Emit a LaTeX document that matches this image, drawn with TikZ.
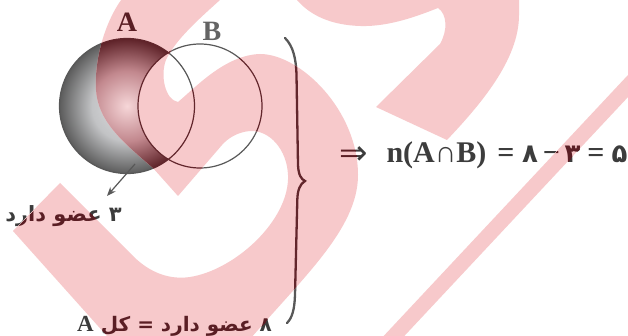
\documentclass[tikz,border=0pt]{standalone}
\usepackage{fontspec}
\setmainfont{Liberation Serif}
\newfontfamily\fa[Script=Arabic]{DejaVu Sans}
\TeXXeTstate=1
\usetikzlibrary{arrows.meta}
\definecolor{wm}{RGB}{247,201,203}
\definecolor{lnG}{RGB}{88,88,88}
\definecolor{lnP}{RGB}{98,38,44}
\definecolor{txG}{RGB}{60,60,60}
\definecolor{txP}{RGB}{90,30,36}
\definecolor{lbG}{RGB}{100,100,100}
\definecolor{g0}{RGB}{224,225,227}
\definecolor{g1}{RGB}{194,195,197}
\definecolor{g2}{RGB}{92,92,92}
\definecolor{p0}{RGB}{246,214,216}
\definecolor{p1}{RGB}{194,136,142}
\definecolor{p2}{RGB}{94,34,40}
\pgfdeclareradialshading{shG}{\pgfpointorigin}{color(0bp)=(g0); color(13bp)=(g1); color(25bp)=(g2); color(50bp)=(g2)}
\pgfdeclareradialshading{shP}{\pgfpointorigin}{color(0bp)=(p0); color(13bp)=(p1); color(25bp)=(p2); color(50bp)=(p2)}
\newcommand{\drawall}[5]{%
  \begin{scope}[even odd rule]
    \clip (127,106) circle[radius=67.5pt] (200,106) circle[radius=62pt];
    \shade[shading=#4] (127,106) circle[radius=67.5pt];
  \end{scope}
  \node[circle, minimum size=135pt, inner sep=0pt, draw=#2, line width=1.2pt] (A#1) at (127,106) {};
  \node[circle, minimum size=124pt, inner sep=0pt, draw=#2, line width=1.2pt] (B#1) at (200,106) {};
  \node[lab, text=#3] (la#1) at (127,22) {A};
  \node[lab, text=#5] (lb#1) at (212,31) {B};
  \coordinate (s#1) at (135,164);
  \coordinate (tip#1) at (107,196);
  \draw[arr, #2] (s#1) -- (tip#1);
  \node[per, anchor=base east, text=#3] (t3#1) at (122,222) {\beginR ۳ عضو دارد\endR};
  \node[anchor=base west, inner sep=0pt, text=#3] (t8#1) at (77,331)
    {{\fontsize{23}{23}\selectfont\bfseries A}\hspace{7pt}{\fa\fontsize{20}{20}\selectfont\bfseries\beginR ۸ عضو دارد = کل\endR}};
  \draw[#2, line width=2.3pt, line cap=round]
    (285,38) .. controls (293,46) and (296,58) .. (296.5,75) -- (298,165)
    .. controls (298.5,175) and (301,179) .. (305,181)
    .. controls (300,184) and (297.5,190) .. (297.3,200) -- (295,295)
    .. controls (294.5,310) and (292,318) .. (287,323);
  \node[eq, text=#3, font=\fa\fontsize{34}{34}\selectfont] (e1#1) at (354,165) {⇒};
  \node[eq, text=#3] (e2#1) at (436.5,163) {n(A∩B)};
  \node[eq, text=#3] (e3#1) at (506,163) {=};
  \node[dig, text=#3] (e4#1) at (530,163) {۸};
  \node[eq, text=#3] (e5#1) at (551.5,163) {−};
  \node[dig, text=#3] (e6#1) at (572.5,163) {۳};
  \node[eq, text=#3] (e7#1) at (596,163) {=};
  \node[dig, text=#3] (e8#1) at (619.5,163) {۵};
}
\begin{document}
\begin{tikzpicture}[x=1pt,y=-1pt,
  lab/.style={inner sep=0pt, font=\fontsize{28}{28}\selectfont\bfseries},
  eq/.style={inner sep=0pt, anchor=base, font=\fontsize{30}{30}\selectfont\bfseries},
  dig/.style={inner sep=0pt, anchor=base, font=\fa\fontsize{26}{26}\selectfont\bfseries},
  per/.style={inner sep=0pt, font=\fa\fontsize{21}{21}\selectfont\bfseries},
  arr/.style={line width=1.2pt, -{Stealth[length=9pt,width=7pt]}}]
\useasboundingbox (0,0) rectangle (628,336);
\fill[white] (0,0) rectangle (628,336);
\drawall{g}{lnG}{txG}{shG}{lbG}
\begin{scope}
\clip (125,-5) -- (222,-5) -- (220,0) .. controls (200,18) and (175,40) .. (166,60)
  .. controls (160,75) and (165,100) .. (178,102)
  .. controls (195,88) and (225,55) .. (260,54)
  .. controls (300,54) and (358,110) .. (358,175)
  .. controls (358,230) and (300,280) .. (245,345)
  -- (115,345) -- (13,231) -- (60,183) -- (133,256)
  .. controls (150,273) and (170,280) .. (190,277)
  .. controls (235,270) and (290,220) .. (288,175)
  .. controls (287,150) and (270,130) .. (250,131)
  .. controls (238,132) and (228,138) .. (222,145)
  -- (178,196) -- (153,168)
  .. controls (120,140) and (98,120) .. (96,90)
  .. controls (94,55) and (108,15) .. (125,-5) -- cycle
  (297,-5) -- (297,0) .. controls (310,15) and (330,25) .. (360,26)
  .. controls (390,27) and (420,15) .. (438,8)
  .. controls (447,14) and (448,30) .. (440,44) -- (376,107) -- (447,140)
  .. controls (480,105) and (519,60) .. (519,15) -- (519,-5) -- cycle
  (650.6,72.9) -- (382.4,359.4) -- (371.4,349.1) -- (639.6,62.6) -- cycle;
\fill[wm] (-10,-10) rectangle (660,360);
\drawall{p}{lnP}{txP}{shP}{lnP}
\end{scope}
\end{tikzpicture}
\end{document}
